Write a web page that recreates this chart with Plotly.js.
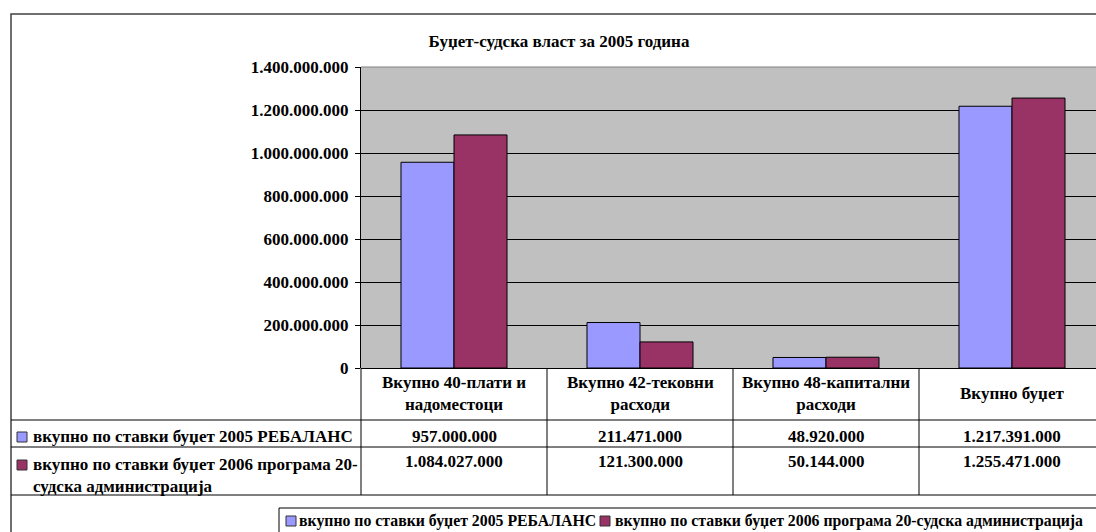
<!DOCTYPE html>
<html>
<head>
<meta charset="utf-8">
<script src="https://cdn.plot.ly/plotly-3.0.1.min.js"></script>
<style>html,body{margin:0;padding:0;background:#fff;}#chart{width:1096px;height:532px;}</style>
</head>
<body>
<div id="chart"></div>
<script>
// ---- data ----
const chartTitle = 'Буџет-судска власт за 2005 година';
const categories = ['Вкупно 40-плати и надоместоци', 'Вкупно 42-тековни расходи', 'Вкупно 48-капитални расходи', 'Вкупно буџет'];
const headerLabels = ['Вкупно 40-плати и<br>надоместоци', 'Вкупно 42-тековни<br>расходи', 'Вкупно 48-капитални<br>расходи', 'Вкупно буџет'];
const series1Name = 'вкупно по ставки буџет 2005 РЕБАЛАНС';
const series2Name = 'вкупно по ставки буџет 2006 програма 20-судска администрација';
const series2TableName = 'вкупно по ставки буџет 2006 програма 20-<br>судска администрација';
const values2005 = [957000000, 211471000, 48920000, 1217391000];
const values2006 = [1084027000, 121300000, 50144000, 1255471000];
const yTickVals = [0, 200000000, 400000000, 600000000, 800000000, 1000000000, 1200000000, 1400000000];

// ---- styles ----
const C1 = '#9999FF', C2 = '#993366';
const FONT = 'Liberation Serif';
const W = 1096, H = 532, L = 361, T = 67, B = 368, R = 1096;
const px2x = p => (p - L) / (R - L);
const py2y = p => (B - p) / (B - T);
const fmt = v => String(v).replace(/\B(?=(\d{3})+(?!\d))/g, '.');
const f = (s) => ({family: FONT, size: s, color: '#000', weight: 'bold'});

const idx = categories.map((c, i) => i);

const traces = [
  {type: 'bar', name: series1Name, x: idx, y: values2005,
   marker: {color: C1, line: {color: '#000', width: 1}}, hoverinfo: 'y'},
  {type: 'bar', name: series2Name, x: idx, y: values2006,
   marker: {color: C2, line: {color: '#000', width: 1}}, hoverinfo: 'y'}
];

const shapes = [];
const ann = [];
const line = (x0, y0, x1, y1, color, width, xref) => shapes.push({type: 'line', xref: xref || 'paper', yref: 'paper', x0, y0, x1, y1, line: {color: color || '#000', width: width || 1}, layer: 'above'});

// outer chart border
shapes.push({type: 'rect', xref: 'paper', yref: 'paper', x0: px2x(11), y0: py2y(14), x1: px2x(1115), y1: py2y(560), line: {color: '#404040', width: 1.5}, layer: 'below'});
// plot area top border
line(0, 1, 1, 1, '#808080', 1);
// table horizontal lines
[420, 447, 495].forEach(p => line(px2x(11), py2y(p), px2x(1115), py2y(p)));
// table vertical lines
line(0, 0, 0, py2y(495));
idx.forEach(i => line(i + 0.5, 0, i + 0.5, py2y(495), '#000', 1, 'x'));

// header labels
idx.forEach(i => ann.push({xref: 'x', yref: 'paper', x: i, y: py2y(394), text: headerLabels[i], showarrow: false, xanchor: 'center', yanchor: 'middle', align: 'center', font: f(17)}));
// row values
idx.forEach(i => ann.push({xref: 'x', yref: 'paper', x: i, y: py2y(436), text: fmt(values2005[i]), showarrow: false, xanchor: 'center', yanchor: 'middle', font: f(17)}));
idx.forEach(i => ann.push({xref: 'x', yref: 'paper', x: i, y: py2y(450), text: fmt(values2006[i]), showarrow: false, xanchor: 'center', yanchor: 'top', font: f(17)}));
// row headers
ann.push({xref: 'paper', yref: 'paper', x: px2x(31), y: py2y(436), text: series1Name, showarrow: false, xanchor: 'left', yanchor: 'middle', font: f(17)});
ann.push({xref: 'paper', yref: 'paper', x: px2x(31), y: py2y(453), text: series2TableName, showarrow: false, xanchor: 'left', yanchor: 'top', align: 'left', font: f(17)});
const marker = (x0, y0, color) => shapes.push({type: 'rect', xref: 'paper', yref: 'paper', x0: px2x(x0), y0: py2y(y0), x1: px2x(x0 + 10), y1: py2y(y0 + 10), fillcolor: color, line: {color: '#333', width: 1}, layer: 'above'});
marker(17, 432, C1);
marker(17, 460, C2);

// legend box
shapes.push({type: 'rect', xref: 'paper', yref: 'paper', x0: px2x(279), y0: py2y(508), x1: px2x(1115), y1: py2y(560), line: {color: '#000', width: 1}, layer: 'above'});
marker(286, 516, C1);
marker(600, 516, C2);
ann.push({xref: 'paper', yref: 'paper', x: px2x(297), y: py2y(521), text: series1Name, showarrow: false, xanchor: 'left', yanchor: 'middle', font: f(15.8)});
ann.push({xref: 'paper', yref: 'paper', x: px2x(613), y: py2y(521), text: series2Name, showarrow: false, xanchor: 'left', yanchor: 'middle', font: f(15.8)});

const layout = {
  width: W, height: H,
  margin: {l: L, r: W - R, t: T, b: H - B, pad: 0},
  paper_bgcolor: '#fff', plot_bgcolor: '#C0C0C0',
  separators: ',.',
  showlegend: false,
  bargap: 0.43, bargroupgap: 0,
  barmode: 'group',
  title: {text: chartTitle, font: f(17), xref: 'container', yref: 'container', x: 559 / W, xanchor: 'center', y: 1 - 41 / H, yanchor: 'middle'},
  xaxis: {range: [-0.5, -0.5 + (R - L) / 186], showticklabels: false, ticks: '', showgrid: false, zeroline: false, showline: false, fixedrange: true},
  yaxis: {range: [0, 1400000000], tickvals: yTickVals, tickformat: ',d', ticks: 'outside', ticklen: 5, tickcolor: '#000', ticklabelstandoff: 3,
          showline: true, linecolor: '#000', linewidth: 1, showgrid: true, gridcolor: '#000', gridwidth: 1,
          zeroline: true, zerolinecolor: '#000', zerolinewidth: 1, tickfont: f(17), fixedrange: true},
  shapes: shapes,
  annotations: ann
};

Plotly.newPlot('chart', traces, layout, {displayModeBar: false, staticPlot: true});
</script>
</body>
</html>
